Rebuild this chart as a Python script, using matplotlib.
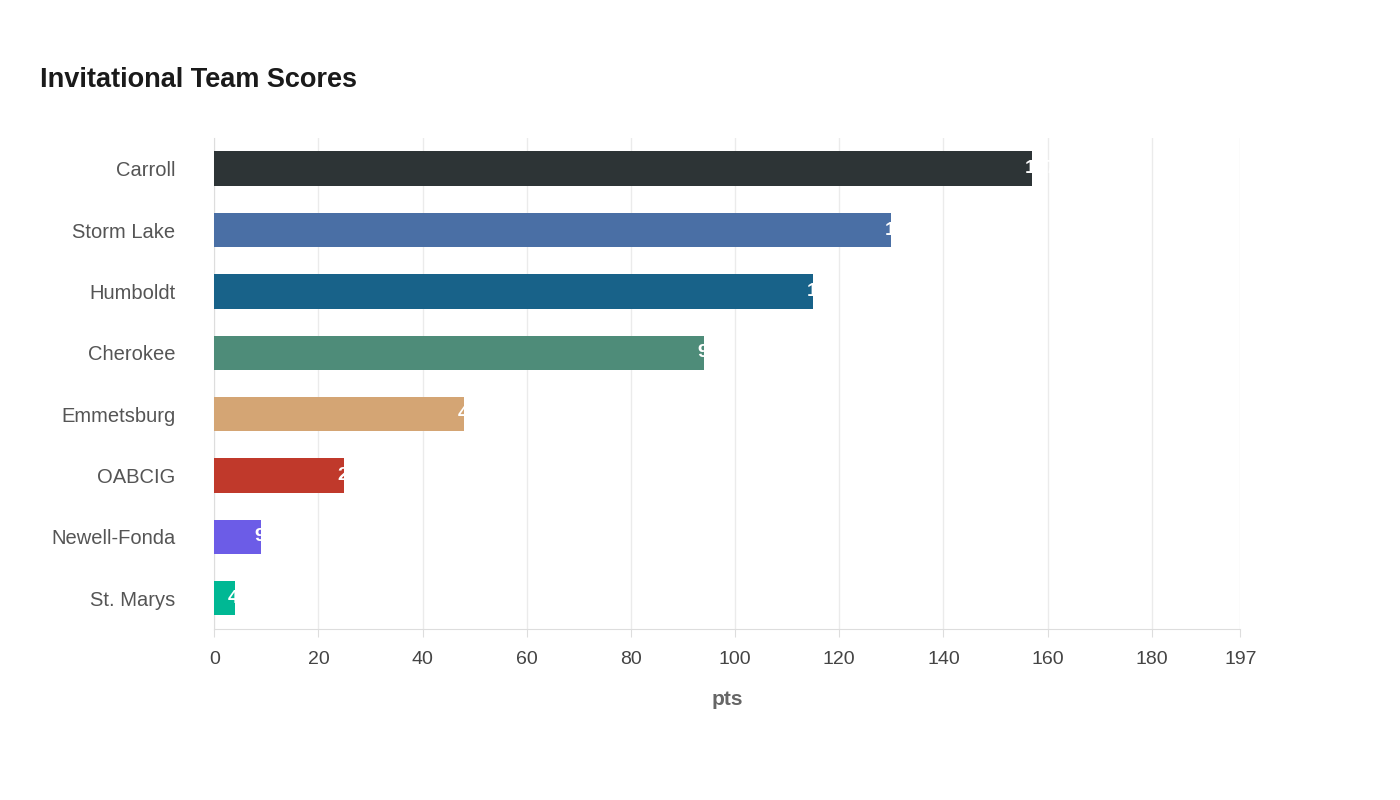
import matplotlib
matplotlib.use("Agg")
import matplotlib.pyplot as plt

teams = ["Carroll", "Storm Lake", "Humboldt", "Cherokee", "Emmetsburg", "OABCIG", "Newell-Fonda", "St. Marys"]
scores = [157, 130, 115, 94, 48, 25, 9, 4]
colors = ["#2d3436", "#4a6fa5", "#186289", "#4e8c79", "#d4a574", "#c0392b", "#6c5ce7", "#00b894"]
xticks = [0, 20, 40, 60, 80, 100, 120, 140, 160, 180, 197]

plt.rcParams['font.family'] = ['Liberation Sans', 'DejaVu Sans']

fig = plt.figure(figsize=(14, 8), dpi=100)
ax = fig.add_axes([0.153, 0.214, 0.733, 0.6135])

y = list(range(len(teams)))
ax.barh(y, scores, height=0.56, color=colors, zorder=3)
for yi, v in zip(y, scores):
    ax.annotate(str(v), (v, yi), xytext=(-5, 0), textcoords="offset points",
                ha="left", va="center", color="white", fontsize=14, fontweight="bold",
                zorder=4)

ax.set_ylim(len(teams) - 0.5, -0.5)
ax.set_xlim(0, 197)
ax.set_yticks(y)
ax.set_yticklabels(teams, fontsize=14.5, color="#555555")
ax.set_xticks(xticks)
ax.set_xticklabels([str(t) for t in xticks], fontsize=14, color="#444444")
ax.tick_params(axis="y", length=0, pad=28)
ax.tick_params(axis="x", length=6, color="#dddddd", pad=10)
ax.grid(axis="x", color="#ebebeb", linewidth=1, zorder=0)
for s in ["top", "right"]:
    ax.spines[s].set_visible(False)
for s in ["left", "bottom"]:
    ax.spines[s].set_color("#dddddd")
ax.set_xlabel("pts", fontsize=15, fontweight="bold", color="#666666", labelpad=16)

fig.text(40 / 1400, 1 - 80 / 800, "Invitational Team Scores", fontsize=19.5,
         fontweight="bold", color="#1a1a1a", va="center", ha="left")

fig.savefig("out.png", dpi=100)
